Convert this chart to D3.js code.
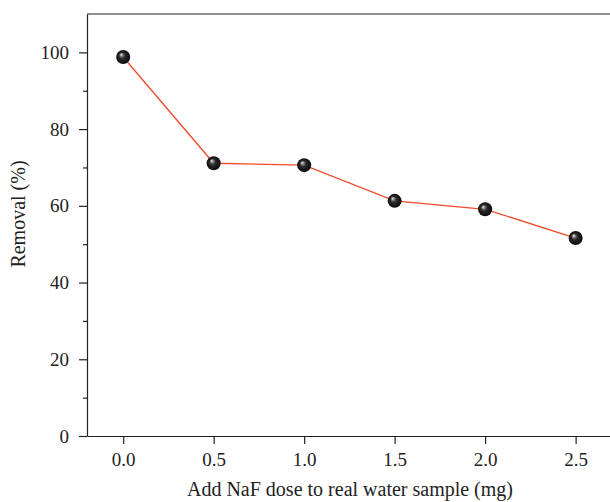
<!DOCTYPE html>
<html>
<head>
<meta charset="utf-8">
<script src="https://cdn.jsdelivr.net/npm/d3@7"></script>
<style>
  body { margin: 0; background: #fff; }
  svg { display: block; }
  .axis text { font-family: "Liberation Serif", serif; font-size: 19px; fill: #222; }
  .axis path, .axis line { stroke: #222; stroke-width: 1.2; }
  .title { font-family: "Liberation Serif", serif; font-size: 20px; fill: #222; }
</style>
</head>
<body>
<script>
"use strict";

// data
const doses = [0.0, 0.5, 1.0, 1.5, 2.0, 2.5];
const removal = [98.8, 71.1, 70.6, 61.3, 59.1, 51.6];
const xTicks = [0.0, 0.5, 1.0, 1.5, 2.0, 2.5];
const yTicks = [0, 20, 40, 60, 80, 100];
const yMinor = [10, 30, 50, 70, 90];

const w = 610, h = 502;
const padL = 87, padR = 610, padT = 14, padB = 436;

const svg = d3.select("body").append("svg")
  .attr("width", w)
  .attr("height", h);

const xScale = d3.scaleLinear().domain([-0.2, 2.69]).range([padL, padR]);
const yScale = d3.scaleLinear().domain([0, 110]).range([padB, padT]);

// sphere look for the markers
const defs = svg.append("defs");
const grad = defs.append("radialGradient")
  .attr("id", "ball")
  .attr("cx", "50%").attr("cy", "50%").attr("r", "50%")
  .attr("fx", "35%").attr("fy", "32%");
grad.append("stop").attr("offset", "0%").attr("stop-color", "#ffffff");
grad.append("stop").attr("offset", "18%").attr("stop-color", "#8a8a8a");
grad.append("stop").attr("offset", "45%").attr("stop-color", "#2a2a2a");
grad.append("stop").attr("offset", "100%").attr("stop-color", "#0a0a0a");

// top frame line
svg.append("line")
  .attr("x1", padL).attr("x2", padR)
  .attr("y1", padT).attr("y2", padT)
  .attr("stroke", "#222").attr("stroke-width", 1.2);

const xAxis = d3.axisBottom(xScale)
  .tickValues(xTicks)
  .tickFormat(d3.format(".1f"))
  .tickSize(8)
  .tickSizeOuter(0)
  .tickPadding(9);
svg.append("g")
  .attr("class", "axis")
  .attr("transform", "translate(0," + padB + ")")
  .call(xAxis);

const yAxis = d3.axisLeft(yScale)
  .tickValues(yTicks)
  .tickFormat(d3.format("d"))
  .tickSize(8)
  .tickSizeOuter(0)
  .tickPadding(10);
svg.append("g")
  .attr("class", "axis")
  .attr("transform", "translate(" + padL + ",0)")
  .call(yAxis);

// minor y ticks
svg.append("g")
  .attr("class", "axis")
  .attr("transform", "translate(" + padL + ",0)")
  .call(d3.axisLeft(yScale).tickValues(yMinor).tickSize(4).tickSizeOuter(0).tickFormat(""))
  .select(".domain").remove();

const line = d3.line()
  .x((d, i) => xScale(doses[i]))
  .y(d => yScale(d));

svg.append("path")
  .datum(removal)
  .attr("d", line)
  .attr("fill", "none")
  .attr("stroke", "#f04a2a")
  .attr("stroke-width", 1.3);

svg.selectAll("circle.pt")
  .data(removal)
  .enter()
  .append("circle")
  .attr("class", "pt")
  .attr("cx", (d, i) => xScale(doses[i]))
  .attr("cy", d => yScale(d))
  .attr("r", 7)
  .attr("fill", "url(#ball)");

svg.append("text")
  .attr("class", "title")
  .attr("x", 350)
  .attr("y", 496)
  .attr("text-anchor", "middle")
  .text("Add NaF dose to real water sample (mg)");

svg.append("text")
  .attr("class", "title")
  .attr("transform", "translate(25,214) rotate(-90)")
  .attr("text-anchor", "middle")
  .text("Removal (%)");
</script>
</body>
</html>
